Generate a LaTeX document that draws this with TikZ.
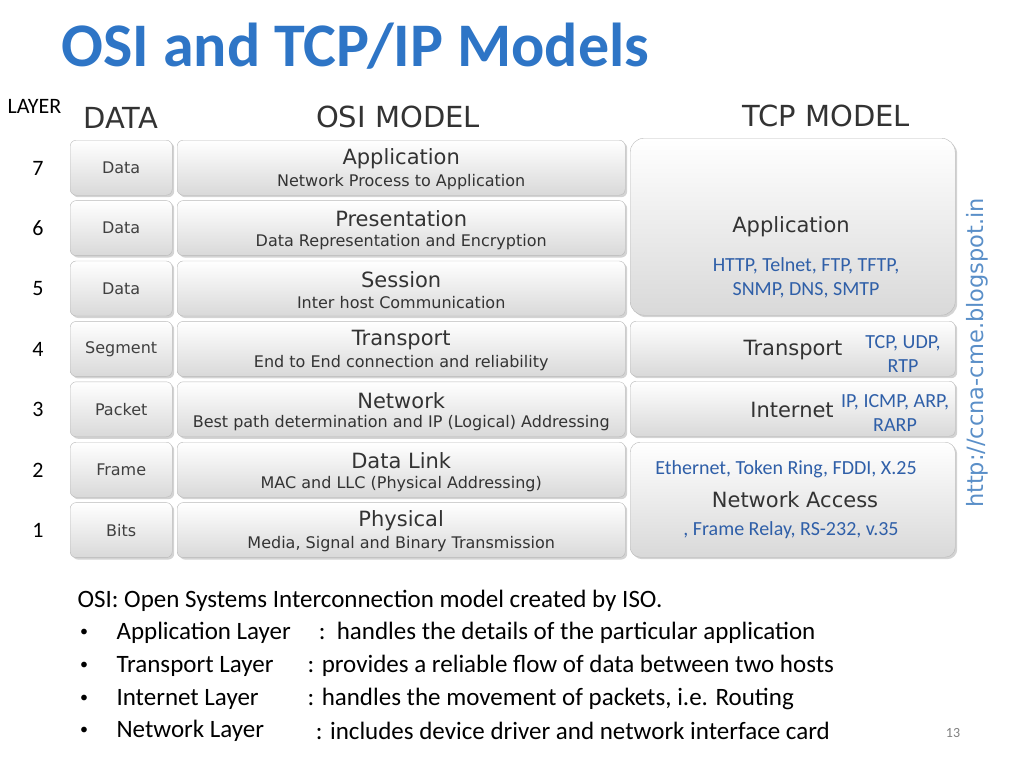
\documentclass[tikz,border=0pt]{standalone}
\usepackage{fontspec}
\setmainfont{Carlito}
\newfontfamily\dv{DejaVu Sans}
\usetikzlibrary{shadows}
\definecolor{ttl}{HTML}{2E75C6}
\definecolor{lnk}{HTML}{2F5FA8}
\definecolor{wm}{HTML}{5A8FC8}
\begin{document}
\begin{tikzpicture}[x=1pt,y=-1pt,
  gbox/.style={draw=gray!55,rounded corners=6pt,top color=white,bottom color=gray!30,drop shadow={opacity=0.35,shadow xshift=2pt,shadow yshift=-2pt}},
  big/.style={font=\dv\fontsize{21}{23}\selectfont,text=black!80},
  sml/.style={font=\dv\fontsize{16}{18}\selectfont,text=black!80},
  dat/.style={font=\dv\fontsize{16}{18}\selectfont,text=black!75},
  num/.style={font=\fontsize{22}{24}\selectfont},
  bl/.style={font=\fontsize{20}{24}\selectfont,text=lnk,align=center}]
\useasboundingbox (0,0) rectangle (1024,768);
\node[anchor=west,font=\bfseries\fontsize{62}{66}\selectfont,text=ttl] (title) at (58,46) {OSI and TCP/IP Models};
\node[anchor=west,font=\fontsize{22}{24}\selectfont] (layer) at (4,106) {LAYER};
\node[anchor=west,font=\dv\fontsize{29}{31}\selectfont,text=black!80] (hd) at (80,118) {DATA};
\node[font=\dv\fontsize{29}{31}\selectfont,text=black!80] (ho) at (398,117) {OSI MODEL};
\node[font=\dv\fontsize{29}{31}\selectfont,text=black!80] (ht) at (826,116) {TCP MODEL};
\foreach \n/\d/\a/\b [count=\i from 0] in {
 7/Data/Application/Network Process to Application,
 6/Data/Presentation/Data Representation and Encryption,
 5/Data/Session/Inter host Communication,
 4/Segment/Transport/End to End connection and reliability,
 3/Packet/Network/Best path determination and IP (Logical) Addressing,
 2/Frame/Data Link/MAC and LLC (Physical Addressing),
 1/Bits/Physical/{Media, Signal and Binary Transmission}}{
  \pgfmathsetmacro\yt{140+60.4*\i}
  \node[gbox,minimum width=102pt,minimum height=55pt,anchor=north west] (d\n) at (70,\yt) {};
  \node[dat] (dt\n) at (d\n) {\d};
  \node[gbox,minimum width=448pt,minimum height=55pt,anchor=north west] (o\n) at (177,\yt) {};
  \node[big] (oa\n) at ([yshift=9pt]o\n.center) {\a};
  \node[sml] (ob\n) at ([yshift=-14pt]o\n.center) {\b};
  \node[num] (n\n) at (38,\yt+28) {\n};
}
\node[gbox,minimum width=325pt,minimum height=177pt,anchor=north west,rounded corners=14pt] (ta) at (630,138) {};
\node[big] (tat) at (791,227) {Application};
\node[bl] (tal) at (806,278) {HTTP, Telnet, FTP, TFTP,\\SNMP, DNS, SMTP};
\node[gbox,minimum width=325pt,minimum height=55pt,anchor=north west] (tt) at (630,321) {};
\node[big] (ttt) at (793,350) {Transport};
\node[bl] (ttl2) at (903,354) {TCP, UDP,\\RTP};
\node[gbox,minimum width=325pt,minimum height=55pt,anchor=north west] (ti) at (630,381) {};
\node[big] (tit) at (792,410) {Internet};
\node[bl] (til) at (895,413) {IP, ICMP, ARP,\\RARP};
\node[gbox,minimum width=325pt,minimum height=115pt,anchor=north west,rounded corners=10pt] (tn) at (630,442) {};
\node[bl] (tn1) at (786,469) {Ethernet, Token Ring, FDDI, X.25};
\node[big] (tnt) at (795,500) {Network Access};
\node[bl] (tn2) at (791,530) {, Frame Relay, RS-232, v.35};
\node[rotate=90,font=\dv\fontsize{22.5}{24}\selectfont,text=wm] (wmk) at (977,353) {http://ccna-cme.blogspot.in};
\node[anchor=west,font=\fontsize{25}{28}\selectfont] (t0) at (74,601) {OSI: Open Systems Interconnection model created by ISO.};
\foreach \y/\a/\b [count=\j] in {633/Application Layer/{\ \ :\ \ handles the details of the particular application},
 666/Transport Layer/{: provides a reliable flow of data between two hosts},
 699/Internet Layer/{: handles the movement of packets, i.e. Routing},
 731/Network Layer/{\,\,: includes device driver and network interface card}}{
  \node[font=\fontsize{16}{18}\selectfont] (bu\j) at (84,\y) {•};
  \node[anchor=west,font=\fontsize{25}{28}\selectfont] (ba\j) at (113,\y) {\a};
  \node[anchor=west,font=\fontsize{25}{28}\selectfont] (bb\j) at (304,\y) {\b};
}
\node[font=\fontsize{14}{16}\selectfont,text=gray] (pg) at (953,733) {13};
\end{tikzpicture}
\end{document}
